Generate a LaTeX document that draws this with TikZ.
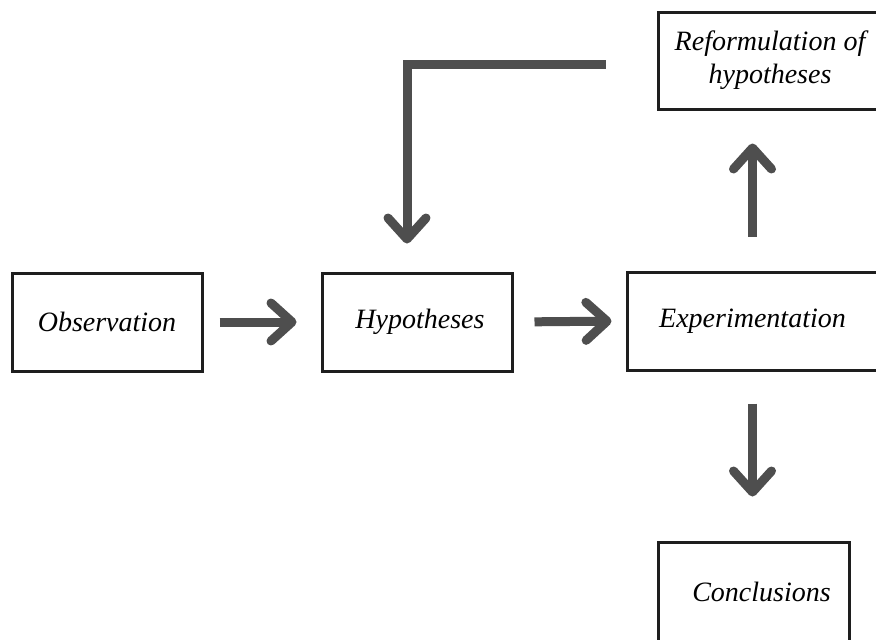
\documentclass[tikz,border=0pt]{standalone}
\usepackage{fontspec}
\setmainfont{Liberation Serif}
\usetikzlibrary{arrows.meta}
\definecolor{arrowgray}{HTML}{4E4E4E}
\definecolor{boxline}{HTML}{1E1E1E}
\begin{document}
\begin{tikzpicture}[x=1pt,y=-1pt,
  stagebox/.style={draw=boxline, line width=3pt, rectangle, inner sep=0pt,
    font=\fontsize{28}{33}\selectfont\itshape, align=center},
  flow/.style={draw=arrowgray, line width=9pt, line join=miter,
    -{Straight Barb[length=21pt,width=38pt,round]}},
]
\clip (0,0) rectangle (876,640);
\fill[white] (0,0) rectangle (876,640);

% stages of the method
\node[stagebox, minimum width=190pt, minimum height=98pt] (obs) at (107,322) {Observation};
\node[stagebox, minimum width=190pt, minimum height=98pt] (hyp) at (417,322) {\hspace*{6pt}Hypotheses};
\node[stagebox, minimum width=251pt, minimum height=98pt] (exp) at (752.5,321) {Experimentation};
\node[stagebox, minimum width=224pt, minimum height=97pt] (ref) at (770,60.5) {Reformulation of\\hypotheses};
\node[stagebox, minimum width=191pt, minimum height=100pt] (con) at (753.5,592) {\hspace*{16pt}Conclusions};

% forward steps
\draw[flow, shorten <=16pt, shorten >=24pt] (obs.east) -- (hyp.west);
\draw[flow, shorten <=21pt, shorten >=14pt] (hyp.east) -- (exp.west);
\draw[flow, shorten <=34pt, shorten >=33pt] (exp.north) -- (exp.north |- ref.south);
\draw[flow, shorten <=32pt, shorten >=44pt] (exp.south) -- (exp.south |- con.north);

% feedback loop to the hypotheses
\draw[flow, shorten <=51pt, shorten >=28pt] ([yshift=-3.5pt]ref.west) -| ([xshift=-10pt]hyp.north);
\end{tikzpicture}
\end{document}
